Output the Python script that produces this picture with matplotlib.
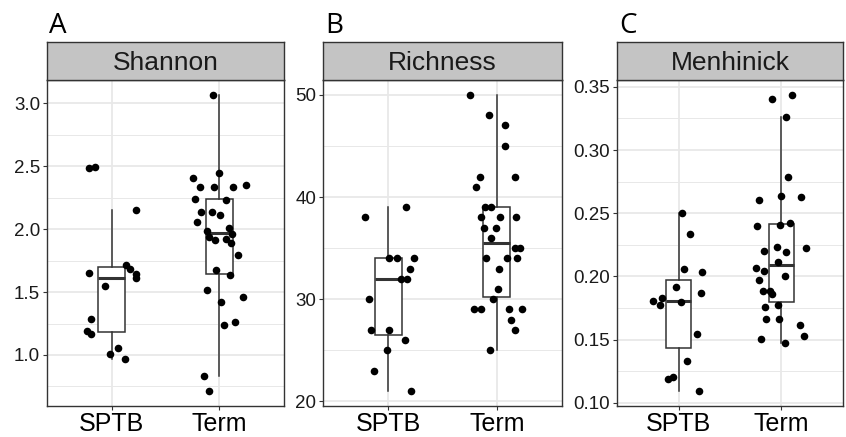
import numpy as np
import matplotlib
matplotlib.use("Agg")
import matplotlib.pyplot as plt

plt.rcParams['font.family'] = ['Liberation Sans', 'DejaVu Sans']

groups = ["SPTB", "Term"]
metrics = ["Shannon", "Richness", "Menhinick"]
panel_tags = ["A", "B", "C"]

# values, with the horizontal jitter of each point
shannon_sptb = [2.488, 2.492, 2.150, 1.654, 1.712, 1.686, 1.646, 1.609, 1.551,
                1.288, 1.193, 1.166, 1.008, 1.055, 0.966]
shannon_sptb_jit = [-0.21, -0.157, 0.228, -0.212, 0.135, 0.175, 0.222, 0.225, -0.058,
                    -0.194, -0.225, -0.194, -0.012, 0.062, 0.12]
shannon_term = [3.069, 2.451, 2.404, 2.332, 2.335, 2.335, 2.351, 2.24, 2.230, 2.137,
                2.135, 2.111, 2.061, 1.982, 2.011, 1.939, 1.918, 1.960, 1.921, 1.892,
                1.794, 1.673, 1.633, 1.520, 1.462, 1.420, 1.240, 1.261, 0.834, 0.712]
shannon_term_jit = [-0.062, 0.0, -0.249, -0.178, -0.046, 0.123, 0.246, -0.225, 0.058, -0.169,
                    -0.071, 0.006, -0.206, -0.117, 0.089, -0.098, -0.037, 0.12, 0.058, 0.105,
                    0.169, -0.034, 0.098, -0.117, 0.215, 0.012, 0.046, 0.145, -0.138, -0.098]

richness_sptb = [38, 39, 30, 34, 34, 34, 33, 32, 32, 27, 27, 26, 25, 23, 21]
richness_sptb_jit = [-0.212, 0.16, -0.172, 0.009, 0.08, 0.234, 0.203, 0.12, 0.172,
                     -0.157, 0.009, 0.154, -0.009, -0.126, 0.212]
richness_term = [50, 48, 47, 45, 42, 42, 41, 39, 39, 38, 38, 38, 37, 37, 36, 35, 35,
                 34, 34, 34, 33, 31, 30, 29, 29, 29, 29, 28, 27, 25]
richness_term_jit = [-0.243, -0.071, 0.077, 0.071, -0.154, 0.166, -0.194, -0.108, -0.049,
                     -0.148, 0.031, 0.172, -0.114, -0.009, -0.049, 0.166, 0.209, -0.095,
                     0.095, 0.182, 0.022, 0.012, -0.031, -0.212, -0.142, 0.108, 0.231,
                     0.129, 0.169, -0.065]

menhinick_sptb = [0.2502, 0.2339, 0.2056, 0.2032, 0.1914, 0.1869, 0.1809, 0.1830, 0.1772,
                  0.1796, 0.1541, 0.1331, 0.1189, 0.1205, 0.1092]
menhinick_sptb_jit = [0.034, 0.114, 0.049, 0.225, -0.028, 0.215, -0.249, -0.163, -0.178,
                      0.025, 0.182, 0.08, -0.102, -0.058, 0.194]
menhinick_term = [0.3400, 0.3437, 0.3264, 0.2783, 0.2607, 0.2639, 0.2631, 0.2397, 0.2410,
                  0.2421, 0.2224, 0.2234, 0.2195, 0.2205, 0.2116, 0.2069, 0.2045, 0.2006,
                  0.1969, 0.1882, 0.1888, 0.1859, 0.1777, 0.1762, 0.1667, 0.1667, 0.1615,
                  0.1528, 0.1502, 0.1470]
menhinick_term_jit = [-0.09, 0.105, 0.046, 0.062, -0.217, 0.0, 0.189, -0.235, -0.015,
                      0.084, 0.241, -0.043, 0.043, -0.167, -0.034, -0.248, -0.167, 0.04,
                      -0.217, -0.183, -0.111, -0.093, -0.034, -0.155, -0.152, -0.022,
                      0.18, 0.217, -0.201, 0.031]

panels = [
    (shannon_sptb, shannon_sptb_jit, shannon_term, shannon_term_jit,
     [1.0, 1.5, 2.0, 2.5, 3.0], ["1.0", "1.5", "2.0", "2.5", "3.0"], 0.5),
    (richness_sptb, richness_sptb_jit, richness_term, richness_term_jit,
     [20, 30, 40, 50], ["20", "30", "40", "50"], 10),
    (menhinick_sptb, menhinick_sptb_jit, menhinick_term, menhinick_term_jit,
     [0.10, 0.15, 0.20, 0.25, 0.30, 0.35],
     ["0.10", "0.15", "0.20", "0.25", "0.30", "0.35"], 0.05),
]

W, H = 846, 437
fig = plt.figure(figsize=(W / 100, H / 100), dpi=100)

# pixel boxes (left, right) for each panel; panel spans y 80..406, strip 42..80
xspans = [(47, 284), (323, 562), (617, 843)]
ptop, pbot, stop = 80, 406, 42

grid_col = "#E8E8E8"
edge_col = "#333333"

for i, (s_vals, s_jit, t_vals, t_jit, ticks, tlabels, step) in enumerate(panels):
    x0, x1 = xspans[i]
    ax = fig.add_axes([x0 / W, 1 - pbot / H, (x1 - x0) / W, (pbot - ptop) / H])
    sax = fig.add_axes([x0 / W, 1 - ptop / H, (x1 - x0) / W, (ptop - stop) / H])

    allv = np.array(list(s_vals) + list(t_vals), dtype=float)
    lo, hi = allv.min(), allv.max()
    pad = 0.05 * (hi - lo)
    ax.set_ylim(lo - pad, hi + pad)
    ax.set_xlim(0.4, 2.6)

    # grid
    minor = [t + step / 2 for t in [ticks[0] - step] + ticks]
    for m in minor:
        ax.axhline(m, color=grid_col, lw=0.7, zorder=0)
    for t in ticks:
        ax.axhline(t, color=grid_col, lw=1.3, zorder=0)
    for xp in [1, 2]:
        ax.axvline(xp, color=grid_col, lw=1.3, zorder=0)

    ax.boxplot([s_vals, t_vals], positions=[1, 2], widths=0.25, showfliers=False,
               showcaps=False, patch_artist=True, whis=1.5,
               boxprops=dict(facecolor="white", edgecolor=edge_col, linewidth=1.1),
               whiskerprops=dict(color=edge_col, linewidth=1.1),
               medianprops=dict(color=edge_col, linewidth=2.2),
               zorder=2)

    ax.scatter(1 + np.array(s_jit), s_vals, s=30, color="black", zorder=3, linewidths=0)
    ax.scatter(2 + np.array(t_jit), t_vals, s=30, color="black", zorder=3, linewidths=0)

    ax.set_yticks(ticks)
    ax.set_yticklabels(tlabels)
    ax.set_xticks([1, 2])
    ax.set_xticklabels(groups)
    ax.tick_params(axis="y", labelsize=13.5, length=3, width=0.8, color=edge_col,
                   labelcolor="#1a1a1a", pad=2)
    ax.tick_params(axis="x", labelsize=18, length=3, width=0.8, color=edge_col,
                   labelcolor="black", pad=1)
    for sp in ax.spines.values():
        sp.set_color(edge_col)
        sp.set_linewidth(1.0)

    sax.set_facecolor("#C4C4C4")
    sax.set_xticks([])
    sax.set_yticks([])
    for sp in sax.spines.values():
        sp.set_color(edge_col)
        sp.set_linewidth(1.0)
    sax.text(0.5, 0.45, metrics[i], ha="center", va="center", fontsize=19,
             color="#1a1a1a", transform=sax.transAxes)

    fig.text((x0 + 2) / W, 1 - 33 / H, panel_tags[i], fontsize=20,
             family=["Open Sans", "DejaVu Sans"], ha="left", va="baseline")

fig.savefig("out.png", dpi=100)
